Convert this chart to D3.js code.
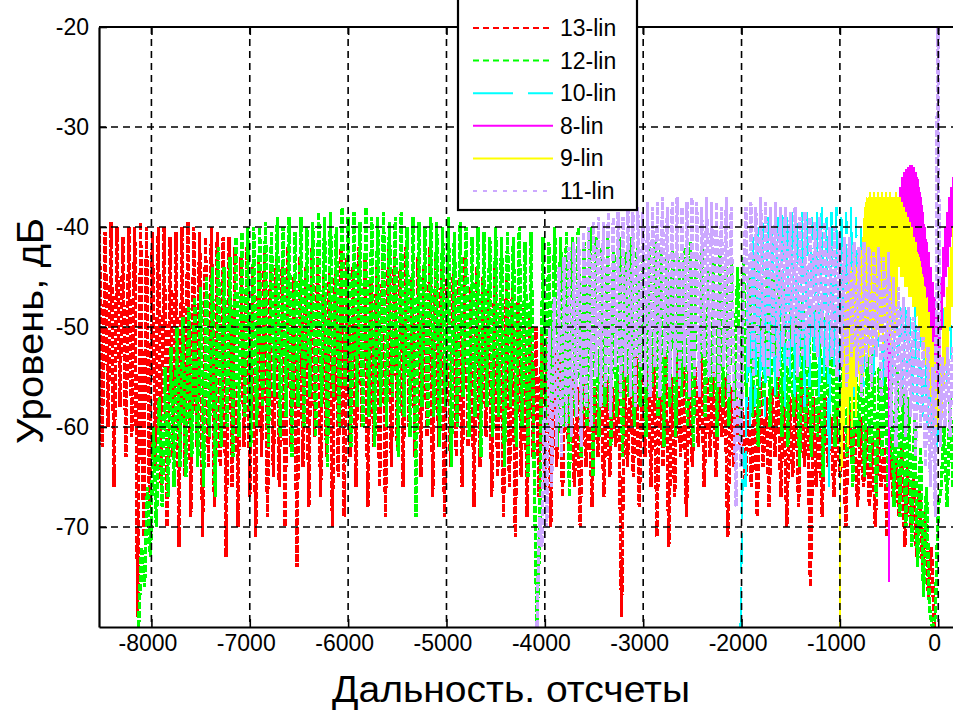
<!DOCTYPE html>
<html>
<head>
<meta charset="utf-8">
<script src="https://cdnjs.cloudflare.com/ajax/libs/d3/7.8.5/d3.min.js"></script>
<style>
    html, body { margin: 0; padding: 0; background: #fff; }
    svg { display: block; font-family: "Liberation Sans", Arial, sans-serif; }
</style>
</head>
<body>
<div id="chart"></div>
<script>

//--- Daten ------------------------------------------------------------------------------------------------- //

var xTicks = [-8000, -7000, -6000, -5000, -4000, -3000, -2000, -1000, 0];
var yTicks = [-70, -60, -50, -40, -30, -20];
var names  = ['13-lin', '12-lin', '10-lin', '8-lin', '9-lin', '11-lin'];

// each trace: first sample position and sample spacing (counts), then the levels in dB
var red13Start = -8530, red13Step = 30;
var red13 = [
    -40,-62,-40.5,-60,-39.5,-66,-40,-58,-41,-63,-40,-61,-40,-79,-39.5,-71,-40,-68,-40.5,-64,
    -40,-66,-40,-70,-41,-63,-40.5,-72,-40,-65,-39.5,-69,-40,-62,-40.5,-71,-41,-64,-40,-68,
    -40.5,-64,-41,-73,-41,-66,-42,-70,-43,-62,-42,-67,-44,-71,-43,-63,-42,-69,-44,-65,
    -43,-66,-44,-70,-42,-62,-45,-74,-43,-64,-44,-68,-42,-61,-43,-67,-45,-63,-44,-70,
    -44,-65,-42,-69,-43,-63,-44,-66,-42,-60,-43,-68,-45,-62,-44,-66,-43,-69,-42,-64,
    -43,-62,-44,-66,-42,-60,-45,-63,-43,-65,-44,-61,-42,-67,-43,-62,-44,-69,-43,-64,
    -44,-63,-45,-66,-43,-62,-46,-68,-44,-64,-45,-61,-46,-67,-44,-65,-47,-69,-45,-66,
    -46,-71,-47,-65,-48,-69,-49,-63,-50,-67,-50,-66,-51,-70,-52,-64,-53,-67,-52,-62,
    -55,-66,-56,-70,-55,-64,-57,-68,-56,-63,-54,-67,-55,-65,-56,-62,-55,-79,-54,-64,
    -54,-65,-53,-68,-55,-63,-54,-66,-52,-71,-54,-64,-53,-72,-55,-67,-52,-63,-53,-69,
    -53,-64,-54,-62,-53,-66,-55,-63,-54,-65,-56,-61,-55,-71,-56,-64,-57,-62,-58,-66,
    -57,-66,-56,-69,-55,-64,-57,-68,-56,-63,-55,-67,-56,-70,-57,-65,-56,-68,-55,-64,
    -56,-76,-57,-66,-58,-69,-57,-64,-59,-67,-58,-65,-59,-70,-58,-63,-60,-68,-59,-66,
    -60,-68,-61,-70,-60,-66,-62,-71,-61,-67,-63,-69,-62,-72,-64,-70,-65,-73,-66,-74,
    -68,-77,-72,-80,-80
];

var green12Start = -8130, green12Step = 30;
var green12 = [
    -80,-72,-76,-66,-73,-60,-70,-57,-68,-54,-67,-52,-66,-50,-64,-49,-65,-48,-63,-47,
    -64,-46,-66,-45,-61,-44,-67,-42,-62,-44,-60,-43,-63,-41,-61,-40.5,-59,-40,-62,-40,
    -60,-40,-58,-39.5,-62,-40.5,-57,-39,-61,-40,-59,-39,-63,-40.5,-58,-39,-60,-40,-57,-39.5,
    -61,-38.5,-58,-39,-64,-38.5,-57,-40,-60,-38,-56,-39,-62,-38.5,-58,-39.5,-60,-38,-59,-39,
    -62,-39,-58,-38.5,-60,-39.5,-57,-39,-63,-38.5,-59,-40,-61,-39,-69,-39.5,-58,-40,-60,-39,
    -59,-39.5,-62,-40,-58,-39,-64,-40.5,-60,-39.5,-57,-40,-61,-41,-59,-40,-63,-40.5,-58,-41,
    -61,-40,-59,-41,-64,-40.5,-58,-41,-62,-40,-60,-41.5,-65,-40.5,-63,-80,-70,-41,-60,-41.5,
    -58,-40,-62,-41,-60,-40.5,-67,-41,-59,-40,-63,-41.5,-60,-40,-65,-41,-61,-42,-58,-41,
    -62,-42,-59,-41,-63,-42.5,-57,-41,-60,-42,-58,-43,-61,-42,-56,-41.5,-59,-42,-62,-43,
    -58,-42,-61,-43,-57,-42,-60,-41.5,-62,-43,-56,-42,-59,-44,-57,-43,-61,-42.5,-58,-44,
    -60,-43,-58,-44,-61,-43,-57,-44.5,-59,-43,-62,-45,-58,-44,-60,-45,-57,-44,-61,-46,
    -62,-47,-59,-48,-64,-47,-60,-49,-63,-48,-61,-50,-65,-49,-60,-50,-62,-51,-64,-50,
    -63,-51,-66,-52,-62,-51,-65,-53,-64,-52,-67,-54,-63,-53,-66,-55,-68,-54,-69,-56,
    -70,-57,-72,-59,-74,-62,-77,-66,-78,-80,-79,-68,-66,-60,-68,-57,-66
];

var cyan10Start = -2010, cyan10Step = 25;
var cyan10 = [
    -80,-62,-66,-45,-60,-41,-58,-40,-56,-39.5,-59,-39,-55,-40,-57,-39,-54,-38.5,-58,-39,-55,-38.5,-57,-39,
    -54,-38.5,-58,-38,-56,-39,-53,-38.5,-57,-38,-55,-39,-66,-38.5,-54,-38,-56,-39,-53,-38.5,-55,-38,-57,-39,
    -54,-40,-56,-41,-53,-42,-55,-43,-52,-44,-56,-45,-54,-46,-55,-47,-53,-48,-56,-48,-55,-49,-57,-48,
    -58,-49,-59,-51,-60,-53,-61,-56,-62,-52,-57,-48,-56,-47,-55
];

var magenta8Start = -520, magenta8Step = 10;
var magenta8 = [
    -48,-45,-75.5,-46,-44,-47,-45,-43,-46,-42,-44,-41,-40,-36,-41,-35,-41,-34.5,-40.5,-34.2,
    -42,-34,-42,-33.8,-42.5,-33.8,-43,-34,-43.5,-34.5,-44,-35,-45,-36,-46,-37,-47,-38.5,-48.5,-40,
    -48,-41.5,-49,-42.5,-50,-44,-52,-45.5,-54,-47,-55,-49,-56,-50,-54,-45,-50,-42,-47,-40,
    -45,-38.5,-44,-37,-42,-36,-41,-35
];

var yellow9Start = -1000, yellow9Step = 10;
var yellow9 = [
    -80,-58,-64,-50,-60,-47,-58,-46,-62,-45,-57,-44,-60,-45,-56,-43,-59,-44,-55,-42,
    -56,-42,-54,-41,-55,-38,-52,-37,-51,-37,-53,-36.5,-50,-37,-52,-36.5,-51,-37,-50,-36.5,
    -51,-37,-50,-36.5,-52,-37,-49,-36.5,-51,-37,-50,-36.5,-52,-37,-49,-37,-51,-36.5,-50,-37,
    -44,-37,-45,-37.5,-45,-38,-46,-38.5,-46,-39,-47,-39.5,-47,-40,-48,-41,-48,-41.5,-49,-42.5,
    -50,-43,-51,-44,-52,-45,-53,-46,-54,-47,-55,-48.5,-57,-50,-58,-51.5,-59,-53,-60,-56,
    -60,-56,-62,-53,-59,-50,-56,-48,-54,-46,-52,-44,-50,-42,-48,-40
];

var lilac11Start = -4080, lilac11Step = 25;
var lilac11 = [
    -80,-69,-72,-58,-70,-50,-66,-47,-62,-44,-63,-43,-60,-42,-61,-41.5,-59,-41,-62,-40.5,-58,-40,-60,-39.5,
    -55,-39,-58,-39.5,-56,-38.5,-59,-39,-54,-38.5,-57,-39,-55,-38,-57,-38.5,-58,-38,-54,-38.5,-56,-37.5,-57,-38,
    -54,-37.5,-57,-37,-53,-38,-56,-37.5,-55,-37,-56,-38,-54,-37.5,-57,-37,-55,-37.5,-57,-38,-53,-37,-55,-37.5,
    -55,-37.5,-56,-38,-54,-37,-57,-38,-56,-68,-50,-64,-45,-38,-54,-37.5,-55,-38,-53,-37,-54,-37.5,-55,-38,
    -53,-37.5,-55,-38,-52,-38,-54,-38.5,-52,-38,-55,-39,-53,-38.5,-54,-39,-51,-39.5,-53,-39,-52,-39.5,-54,-40,
    -53,-40,-55,-40.5,-54,-41,-56,-41,-53,-41.5,-55,-42,-57,-41.5,-54,-42,-56,-42.5,-53,-42,-57,-43,-55,-42.5,
    -60,-45,-62,-46,-58,-47,-61,-48,-59,-49,-63,-50,-60,-51,-64,-52,-66,-54,-69,-15,-62,-53,-60,-52,-61,-52
];


//--- Layout ------------------------------------------------------------------------------------------------ //

var width = 953, height = 711;
var plotLeft = 99, plotRight = 953, plotTop = 27, plotBottom = 627;

var x = d3.scaleLinear().domain([-8533, 150]).range([plotLeft, plotRight]);
var y = d3.scaleLinear().domain([-80, -20]).range([plotBottom, plotTop]);

// drawn in legend order
var traces = [
    { name: names[0], values: red13,    start: red13Start,    step: red13Step,    color: '#ff0000', dash: '7,2',   key: '6,4',   w: 3.4 },
    { name: names[1], values: green12,  start: green12Start,  step: green12Step,  color: '#00ff00', dash: '7,2',   key: '6,4',   w: 3.4 },
    { name: names[2], values: cyan10,   start: cyan10Start,   step: cyan10Step,   color: '#00ffff', dash: '40,14', key: '40,15', w: 2.2 },
    { name: names[3], values: magenta8, start: magenta8Start, step: magenta8Step, color: '#ff00ff', dash: null,    key: null,    w: 1.8 },
    { name: names[4], values: yellow9,  start: yellow9Start,  step: yellow9Step,  color: '#ffff00', dash: null,    key: null,    w: 1.8 },
    { name: names[5], values: lilac11,  start: lilac11Start,  step: lilac11Step,  color: '#cca8ff', dash: '7,2',   key: '4,6',   w: 3.2 }
];

var tickFont = '23px';

var svg = d3.select('#chart').append('svg')
    .attr('width', width)
    .attr('height', height);

svg.append('defs').append('clipPath')
    .attr('id', 'plotclip')
    .append('rect')
    .attr('x', plotLeft)
    .attr('y', plotTop)
    .attr('width', plotRight - plotLeft)
    .attr('height', plotBottom - plotTop);


//--- Kurven ------------------------------------------------------------------------------------------------ //

var curves = svg.append('g').attr('clip-path', 'url(#plotclip)');

traces.forEach(function (t) {
    var line = d3.line()
        .x(function (d, i) { return x(t.start + i * t.step); })
        .y(function (d) { return y(d); });

    curves.append('path')
        .datum(t.values)
        .attr('d', line)
        .attr('fill', 'none')
        .attr('stroke', t.color)
        .attr('stroke-width', t.w)
        .attr('stroke-linejoin', 'bevel')
        .attr('stroke-dasharray', t.dash)
        .attr('shape-rendering', 'crispEdges');
});


//--- Gitter und Achsen ------------------------------------------------------------------------------------- //

var grid = svg.append('g');

grid.selectAll('.vgrid')
    .data(xTicks)
    .enter().append('line')
    .attr('x1', function (d) { return x(d); })
    .attr('x2', function (d) { return x(d); })
    .attr('y1', plotTop)
    .attr('y2', plotBottom)
    .attr('stroke', '#000')
    .attr('stroke-width', 1.6)
    .attr('stroke-dasharray', '7,5');

grid.selectAll('.hgrid')
    .data(yTicks.slice(0, 5))
    .enter().append('line')
    .attr('x1', plotLeft)
    .attr('x2', plotRight)
    .attr('y1', function (d) { return y(d); })
    .attr('y2', function (d) { return y(d); })
    .attr('stroke', '#000')
    .attr('stroke-width', 1.6)
    .attr('stroke-dasharray', '7,5');

function plain(d) { return String(d); }

var xAxis = svg.append('g')
    .attr('transform', 'translate(0,' + plotBottom + ')')
    .call(d3.axisBottom(x).tickValues(xTicks).tickSize(-8).tickSizeOuter(0).tickPadding(8).tickFormat(plain));

var xTop = svg.append('g')
    .attr('transform', 'translate(0,' + plotTop + ')')
    .call(d3.axisTop(x).tickValues(xTicks).tickSize(-8).tickSizeOuter(0).tickFormat(''));

var yAxis = svg.append('g')
    .attr('transform', 'translate(' + plotLeft + ',0)')
    .call(d3.axisLeft(y).tickValues(yTicks).tickSize(-8).tickSizeOuter(0).tickPadding(10).tickFormat(plain));

[xAxis, xTop, yAxis].forEach(function (a) {
    a.select('.domain').attr('stroke', '#000').attr('stroke-width', 2.2);
    a.selectAll('.tick line').attr('stroke', '#000').attr('stroke-width', 1.6);
    a.selectAll('.tick text')
        .attr('fill', '#000')
        .style('font-size', tickFont)
        .style('font-family', '"Liberation Sans", Arial, sans-serif');
});

xAxis.selectAll('.tick text').attr('x', -4);

// top edge of the box runs to the right border of the picture
xTop.select('.domain').attr('d', 'M' + plotLeft + ',0H' + (plotRight + 5));


//--- Beschriftung ------------------------------------------------------------------------------------------ //

svg.append('text')
    .attr('x', 511)
    .attr('y', 702)
    .attr('text-anchor', 'middle')
    .style('font-size', '36px')
    .attr('textLength', 358)
    .attr('lengthAdjust', 'spacingAndGlyphs')
    .text('Дальность. отсчеты');

svg.append('text')
    .attr('transform', 'translate(43,331) rotate(-90)')
    .attr('text-anchor', 'middle')
    .style('font-size', '36px')
    .attr('textLength', 226)
    .attr('lengthAdjust', 'spacingAndGlyphs')
    .text('Уровень, дБ');


//--- Legende ----------------------------------------------------------------------------------------------- //

var legend = svg.append('g');

legend.append('rect')
    .attr('x', 458)
    .attr('y', -5)
    .attr('width', 179)
    .attr('height', 215)
    .attr('fill', '#fff')
    .attr('stroke', '#000')
    .attr('stroke-width', 2.2);

traces.forEach(function (t, i) {
    var ly = 28 + i * 32.6;
    legend.append('line')
        .attr('x1', 473)
        .attr('x2', 553)
        .attr('y1', ly)
        .attr('y2', ly)
        .attr('stroke', t.color)
        .attr('stroke-width', 2)
        .attr('stroke-dasharray', t.key);
    legend.append('text')
        .attr('x', 560)
        .attr('y', ly)
        .attr('dy', '0.35em')
        .style('font-size', tickFont)
        .text(t.name);
});

</script>
</body>
</html>
